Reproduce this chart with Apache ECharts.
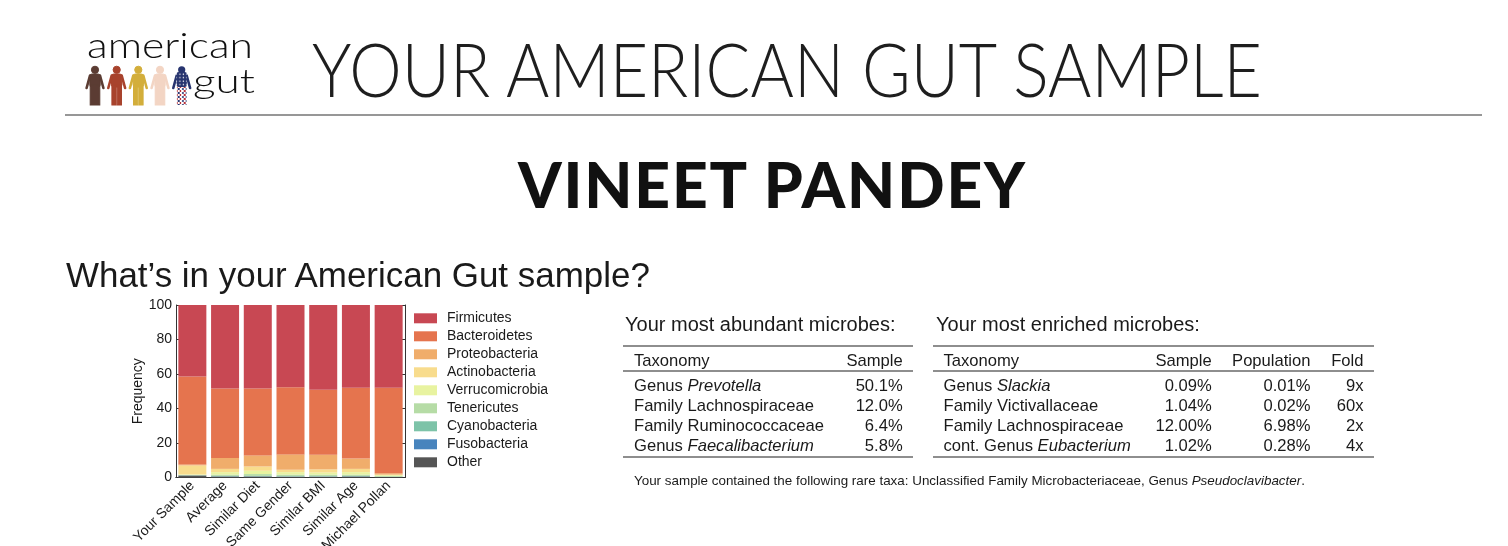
<!DOCTYPE html>
<html><head><meta charset="utf-8">
<script src="https://cdn.jsdelivr.net/npm/echarts@6/dist/echarts.min.js"></script>
<style>
html,body{margin:0;padding:0;background:#fff;width:1508px;height:546px;overflow:hidden;position:relative;}
#chart{position:absolute;left:0;top:0;width:1508px;height:546px;}
.t{position:absolute;left:0;top:0;white-space:nowrap;line-height:1;color:#1a1a1a;font-family:"Liberation Sans",Arial,sans-serif;transform-origin:0 0;}
.bl{display:inline-block;width:0;height:0;}
.rule{position:absolute;background:#8e8e8e;}
#logo{position:absolute;left:0;top:0;}
</style></head>
<body>
<div id="chart"></div>
<svg id="logo" width="260" height="115" viewBox="0 0 260 115">
  <defs>
    <pattern id="plaid" width="4" height="4" patternUnits="userSpaceOnUse">
      <rect width="4" height="4" fill="#ffffff"/>
      <rect width="2" height="2" fill="#b8323a"/>
      <rect x="2" y="2" width="2" height="2" fill="#2a3570"/>
    </pattern>
    <pattern id="stars" width="3.5" height="3.5" patternUnits="userSpaceOnUse">
      <rect width="3.5" height="3.5" fill="#27346f"/>
      <circle cx="1.2" cy="1.2" r="0.7" fill="#ffffff"/>
    </pattern>
    <g id="person">
      <circle cx="10" cy="3.8" r="3.6"/>
      <rect x="4.8" y="8" width="10.4" height="13" rx="2.2"/>
      <line x1="5" y1="9.5" x2="1.6" y2="22" stroke-width="2.6" stroke-linecap="round"/>
      <line x1="15" y1="9.5" x2="18.4" y2="22" stroke-width="2.6" stroke-linecap="round"/>
      <rect x="5.2" y="19" width="4.3" height="20"/>
      <rect x="10.5" y="19" width="4.3" height="20"/>
    </g>
  </defs>
  <use href="#person" x="85" y="66" fill="#5b3c33" stroke="#5b3c33"/>
  <use href="#person" x="106.7" y="66" fill="#a8432d" stroke="#a8432d"/>
  <use href="#person" x="128.3" y="66" fill="#d3ae3b" stroke="#d3ae3b"/>
  <use href="#person" x="150" y="66" fill="#f3d5c4" stroke="#f3d5c4"/>
  <g transform="translate(171.7,66)">
    <circle cx="10" cy="3.8" r="3.6" fill="#27346f"/>
    <line x1="5" y1="9.5" x2="1.6" y2="22" stroke="#27346f" stroke-width="2.6" stroke-linecap="round"/>
    <line x1="15" y1="9.5" x2="18.4" y2="22" stroke="#27346f" stroke-width="2.6" stroke-linecap="round"/>
    <rect x="4.8" y="6" width="10.4" height="15" rx="2.2" fill="url(#stars)"/>
    <rect x="5.2" y="21" width="4.3" height="18" fill="url(#plaid)"/>
    <rect x="10.5" y="21" width="4.3" height="18" fill="url(#plaid)"/>
  </g>
</svg>
<script>
// ---------- chart data ----------
const categories = ['Your Sample','Average','Similar Diet','Same Gender','Similar BMI','Similar Age','Michael Pollan'];
const phyla = ['Firmicutes','Bacteroidetes','Proteobacteria','Actinobacteria','Verrucomicrobia','Tenericutes','Cyanobacteria','Fusobacteria','Other'];
const firmicutes      = [41.5, 48.4, 48.4, 47.7, 49.2, 48.0, 48.0];
const bacteroidetes   = [50.9, 40.3, 38.8, 38.9, 37.6, 41.0, 49.5];
const proteobacteria  = [0.6, 6.3, 6.4, 8.9, 8.5, 6.0, 0.8];
const actinobacteria  = [5.2, 1.9, 2.5, 1.4, 1.8, 1.9, 0.3];
const verrucomicrobia = [0.3, 1.4, 1.9, 1.4, 1.2, 1.4, 0.5];
const tenericutes     = [0.2, 0.8, 1.1, 0.9, 0.9, 0.8, 0.5];
const cyanobacteria   = [0.1, 0.2, 0.2, 0.2, 0.2, 0.2, 0.1];
const fusobacteria    = [0.0, 0.1, 0.1, 0.1, 0.1, 0.1, 0.0];
const other           = [1.2, 0.6, 0.6, 0.5, 0.5, 0.6, 0.3];
const yTicks = [0, 20, 40, 60, 80, 100];

// ---------- table data ----------
const abundantRank   = ['Genus', 'Family', 'Family', 'Genus'];
const abundantName   = ['Prevotella', 'Lachnospiraceae', 'Ruminococcaceae', 'Faecalibacterium'];
const abundantItalic = [true, false, false, true];
const abundantSample = ['50.1%', '12.0%', '6.4%', '5.8%'];

const enrichedRank   = ['Genus', 'Family', 'Family', 'cont. Genus'];
const enrichedName   = ['Slackia', 'Victivallaceae', 'Lachnospiraceae', 'Eubacterium'];
const enrichedItalic = [true, false, false, true];
const enrichedSample = ['0.09%', '1.04%', '12.00%', '1.02%'];
const enrichedPop    = ['0.01%', '0.02%', '6.98%', '0.28%'];
const enrichedFold   = ['9x', '60x', '2x', '4x'];

const colors = ['#c84853','#e5744e','#f0ad6b','#f8dc8d','#e8f3a0','#b6dca6','#7dc3a8','#4884bd','#555555'];
const seriesValues = [firmicutes, bacteroidetes, proteobacteria, actinobacteria, verrucomicrobia, tenericutes, cyanobacteria, fusobacteria, other];

// ---------- chart ----------
const chart = echarts.init(document.getElementById('chart'), null, {renderer:'canvas'});
const axisColor = '#333333';
const series = [];
for (let i = phyla.length - 1; i >= 0; i--) {
  series.push({
    name: phyla[i], type: 'bar', stack: 'total', barWidth: 28,
    data: seriesValues[i], itemStyle: {color: colors[i]},
    emphasis: {disabled: true}, animation: false
  });
}
chart.setOption({
  animation: false,
  textStyle: {fontFamily: 'Liberation Sans, Arial, sans-serif'},
  grid: {left: 176, top: 305, width: 229, height: 172.5, containLabel: false, outerBoundsMode: 'none'},
  legend: {
    orient: 'vertical', left: 414, top: 311.3, padding: 0, itemWidth: 23, itemHeight: 10, itemGap: 4,
    icon: 'rect', data: phyla, selectedMode: false,
    textStyle: {fontSize: 14, color: '#1a1a1a', padding: [0,0,0,5], fontFamily: 'Liberation Sans, Arial, sans-serif'}
  },
  xAxis: [{
    type: 'category', data: categories, position: 'bottom',
    axisLine: {lineStyle: {color: axisColor, width: 1}},
    axisTick: {inside: true, alignWithLabel: true, length: 4, lineStyle: {color: axisColor}},
    axisLabel: {rotate: 45, fontSize: 14, color: '#1a1a1a', margin: 6, interval: 0, hideOverlap: false}
  }, {
    type: 'category', data: categories, position: 'top',
    axisLine: {lineStyle: {color: axisColor, width: 1}},
    axisTick: {inside: true, alignWithLabel: true, length: 4, lineStyle: {color: axisColor}},
    axisLabel: {show: false}
  }],
  yAxis: [{
    type: 'value', min: yTicks[0], max: yTicks[yTicks.length-1], interval: 20,
    name: 'Frequency', nameLocation: 'middle', nameGap: 31,
    nameTextStyle: {fontSize: 14, color: '#1a1a1a'},
    axisLine: {show: true, lineStyle: {color: axisColor, width: 1}},
    axisTick: {show: true, inside: true, length: 4, lineStyle: {color: axisColor}},
    axisLabel: {fontSize: 14, color: '#1a1a1a', margin: 4},
    splitLine: {show: false}
  }, {
    type: 'value', min: yTicks[0], max: yTicks[yTicks.length-1], interval: 20, position: 'right',
    axisLine: {show: true, lineStyle: {color: axisColor, width: 1}},
    axisTick: {show: true, inside: true, length: 4, lineStyle: {color: axisColor}},
    axisLabel: {show: false}, splitLine: {show: false}
  }],
  series: series
});

// ---------- page text ----------
const texts = [];
function T(o){ texts.push(o); }
function rule(x, y, w, h, c){
  const d = document.createElement('div'); d.className = 'rule';
  d.style.left = x + 'px'; d.style.top = y + 'px'; d.style.width = w + 'px'; d.style.height = h + 'px';
  if (c) d.style.background = c;
  document.body.appendChild(d);
}
const LATO = 'Lato, "Open Sans", sans-serif';
T({html: 'american', x: 87, y: 58.3, xH: 17.6, family: LATO, weight: 300, fitW: 166, fit: 'sx', color: '#111'});
T({html: 'gut', x: 193, y: 93, xH: 17, family: LATO, weight: 300, fitW: 62, fit: 'sx', color: '#111'});
T({html: 'YOUR AMERICAN GUT SAMPLE', x: 312, y: 96.7, capH: 53.4, family: LATO, weight: 300, fitW: 950, fit: 'sx', color: '#1e1e1e'});
T({html: 'VINEET PANDEY', x: 518, y: 208, capH: 45.5, family: LATO, weight: 900, fitW: 507, fit: 'ls', color: '#111'});
T({html: 'What’s in your American Gut sample?', x: 66, y: 287, size: 35, fitW: 584, fit: 'fs'});
T({html: 'Your most abundant microbes:', x: 625, y: 331, size: 20});
T({html: 'Your most enriched microbes:', x: 936, y: 331, size: 20});

const FS = 16.6;
function taxHtml(rank, name, it){ return it ? rank + ' <i>' + name + '</i>' : rank + ' ' + name; }
// table 1
T({html: 'Taxonomy', x: 634, y: 365.7, size: FS});
T({html: 'Sample', x: 902.7, y: 365.7, size: FS, align: 'right'});
for (let i = 0; i < abundantName.length; i++) {
  const y = 390.7 + i * 20;
  T({html: taxHtml(abundantRank[i], abundantName[i], abundantItalic[i]), x: 634, y: y, size: FS});
  T({html: abundantSample[i], x: 902.7, y: y, size: FS, align: 'right'});
}
// table 2
T({html: 'Taxonomy', x: 943.5, y: 365.7, size: FS});
T({html: 'Sample', x: 1211.7, y: 365.7, size: FS, align: 'right'});
T({html: 'Population', x: 1310.5, y: 365.7, size: FS, align: 'right'});
T({html: 'Fold', x: 1363.5, y: 365.7, size: FS, align: 'right'});
for (let i = 0; i < enrichedName.length; i++) {
  const y = 390.7 + i * 20;
  T({html: taxHtml(enrichedRank[i], enrichedName[i], enrichedItalic[i]), x: 943.5, y: y, size: FS});
  T({html: enrichedSample[i], x: 1211.7, y: y, size: FS, align: 'right'});
  T({html: enrichedPop[i], x: 1310.5, y: y, size: FS, align: 'right'});
  T({html: enrichedFold[i], x: 1363.5, y: y, size: FS, align: 'right'});
}
T({html: 'Your sample contained the following rare taxa: Unclassified Family Microbacteriaceae, Genus <i>Pseudoclavibacter</i>.', x: 634, y: 485, size: 12, fitW: 672, fit: 'fs'});

rule(65, 114, 1417, 2, '#979797');
rule(623, 345, 290, 2); rule(623, 370, 290, 1.5); rule(623, 456, 290, 2);
rule(933, 345, 441, 2); rule(933, 370, 441, 1.5); rule(933, 456, 441, 2);

const cv = document.createElement('canvas').getContext('2d');
function inkRatio(family, weight, ch){
  cv.font = (weight || 400) + ' 100px ' + family;
  const m = cv.measureText(ch);
  return (m.actualBoundingBoxAscent || 72) / 100;
}
const els = texts.map(o => {
  const d = document.createElement('div'); d.className = 't';
  d.innerHTML = '<span class="tx">' + o.html + '</span><span class="bl"></span>';
  if (o.family) d.style.fontFamily = o.family;
  if (o.weight) d.style.fontWeight = o.weight;
  if (o.color) d.style.color = o.color;
  document.body.appendChild(d);
  return d;
});
function layout(){
  texts.forEach((o, k) => {
    const d = els[k]; const tx = d.querySelector('.tx'); const bl = d.querySelector('.bl');
    const fam = o.family || '"Liberation Sans", Arial, sans-serif';
    let size = o.size;
    if (o.capH) size = o.capH / inkRatio(fam, o.weight, 'H');
    if (o.xH) size = o.xH / inkRatio(fam, o.weight, 'x');
    d.style.letterSpacing = '0px'; d.style.fontSize = size + 'px'; d.style.transform = 'none';
    d.style.left = '0px'; d.style.top = '0px';
    let w = tx.getBoundingClientRect().width;
    if (o.fitW) {
      if (o.fit === 'fs') {
        d.style.fontSize = (size * o.fitW / w) + 'px';
      } else if (o.fit === 'sx') {
        d.style.transform = 'scaleX(' + (o.fitW / w) + ')';
      } else {
        const n = tx.textContent.length;
        d.style.letterSpacing = ((o.fitW - w) / (n - 1)) + 'px';
      }
      w = o.fitW;
    }
    const b = bl.getBoundingClientRect().top;
    const left = o.align === 'right' ? o.x - w : o.x;
    d.style.left = left + 'px';
    d.style.top = (o.y - b) + 'px';
  });
}
layout();
if (document.fonts && document.fonts.ready) document.fonts.ready.then(layout);
</script>
</body></html>
